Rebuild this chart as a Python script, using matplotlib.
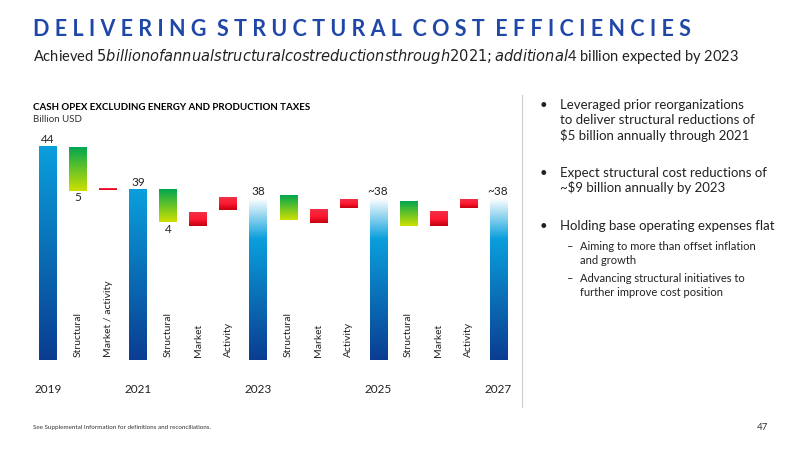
import matplotlib
matplotlib.use("Agg")
import matplotlib.pyplot as plt
import numpy as np
from matplotlib.colors import LinearSegmentedColormap

plt.rcParams['font.family'] = ['Lato', 'DejaVu Sans']

labels = ["2019", "Structural", "Market / activity", "2021", "Structural", "Market", "Activity",
          "2023", "Structural", "Market", "Activity", "2025", "Structural", "Market", "Activity", "2027"]
kinds = ["total", "green", "red", "total", "green", "red", "red",
         "fade", "green", "red", "red", "fade", "green", "red", "red", "fade"]
bottoms = [19.2, 38.9, 38.95, 19.2, 35.2, 34.8, 36.7, 19.2, 35.5, 35.1, 36.9, 19.2, 34.8, 34.8, 36.9, 19.2]
tops = [44, 44, 39.15, 39, 39, 36.4, 38.2, 38, 38.3, 36.7, 37.9, 38, 37.6, 36.5, 37.9, 38]
value_text = {0: ("44", "above"), 1: ("5", "below"), 3: ("39", "above"), 4: ("4", "below"),
              7: ("38", "above"), 11: ("~38", "above"), 15: ("~38", "above")}

fig = plt.figure(figsize=(8, 4.5), dpi=100)
navy = "#1d3c96"
fig.text(33/800, 1-30/450, "D E L I V E R I N G   S T R U C T U R A L   C O S T   E F F I C I E N C I E S".replace("   ", "  "),
         fontsize=15.5, fontweight='bold', color="#1f47a8", va='center')
fig.text(33/800, 1-57/450, "Achieved $5 billion of annual structural cost reductions through 2021; additional $4 billion expected by 2023",
         fontsize=10.5, color="#222222", va='center')
fig.text(33/800, 1-107/450, "CASH OPEX EXCLUDING ENERGY AND PRODUCTION TAXES", fontsize=7, fontweight='bold', va='center')
fig.text(33/800, 1-120/450, "Billion USD", fontsize=7, va='center', color="#333333")
fig.text(33/800, 1-428/450, "See Supplemental Information for definitions and reconciliations.", fontsize=4.5, va='center', color="#333333")
fig.text(768/800, 1-428/450, "47", fontsize=7, va='center', ha='right', color="#333333")
fig.add_artist(plt.Line2D([522/800, 522/800], [1-95/450, 1-407/450], color="#cccccc", lw=0.8))

cm_total = LinearSegmentedColormap.from_list("t", ["#0a3d91", "#0a9fdc"])
cm_fade = LinearSegmentedColormap.from_list("f", ["#0a3d91", "#0a9fdc", "#ffffff"])
cm_green = LinearSegmentedColormap.from_list("g", ["#cfe000", "#00a650"])
cm_red = LinearSegmentedColormap.from_list("r", ["#c4000f", "#ff1a30", "#f03048"])
cmaps = {"total": cm_total, "fade": cm_fade, "green": cm_green, "red": cm_red}

ax = fig.add_axes([30/800, 1-360/450, 490/800, 220/450])
ax.set_xlim(-0.6, 15.73)
ax.set_ylim(19.2, 44.8)
ax.axis('off')
w = 0.57
grad = np.linspace(0, 1, 256).reshape(-1, 1)
for i, (k, b, t) in enumerate(zip(kinds, bottoms, tops)):
    if k == "fade":
        g = np.linspace(0, 1, 256).reshape(-1, 1)
        g = np.where(g < 0.75, g / 0.75 * 0.5, 0.5 + (g - 0.75) / 0.25 * 0.5)
    else:
        g = grad
    ax.imshow(g, extent=[i - w/2, i + w/2, b, t], origin='lower', aspect='auto', cmap=cmaps[k], zorder=2)
    if k in ("total", "fade"):
        ax.text(i, 15.8, labels[i], ha='center', va='center', fontsize=8.5, color="#222222", clip_on=False)
    else:
        ax.text(i, 19.6, labels[i], rotation=90, ha='center', va='bottom', fontsize=7.5, color="#222222")
for i, (s, pos) in value_text.items():
    if pos == "above":
        ax.text(i, tops[i] + 0.2, s, ha='center', va='bottom', fontsize=8.5, color="#222222")
    else:
        ax.text(i, bottoms[i] - 0.2, s, ha='center', va='top', fontsize=8.5, color="#222222")

def t(x, y, s, fs=9.5, **kw):
    fig.text(x/800, 1-y/450, s, fontsize=fs, va='center', color="#222222", **kw)
bul = [(105, ["Leveraged prior reorganizations", "to deliver structural reductions of", "$5 billion annually through 2021"]),
       (173, ["Expect structural cost reductions of", "~$9 billion annually by 2023"]),
       (226, ["Holding base operating expenses flat"])]
for y, lines in bul:
    t(540, y, "•")
    for j, l in enumerate(lines):
        t(560, y + 15*j, l)
subs = [(247, ["Aiming to more than offset inflation", "and growth"]),
        (279, ["Advancing structural initiatives to", "further improve cost position"])]
for y, lines in subs:
    t(567, y, "–", fs=8)
    for j, l in enumerate(lines):
        t(580, y + 14*j, l, fs=8)

fig.savefig("out.png", dpi=100)
